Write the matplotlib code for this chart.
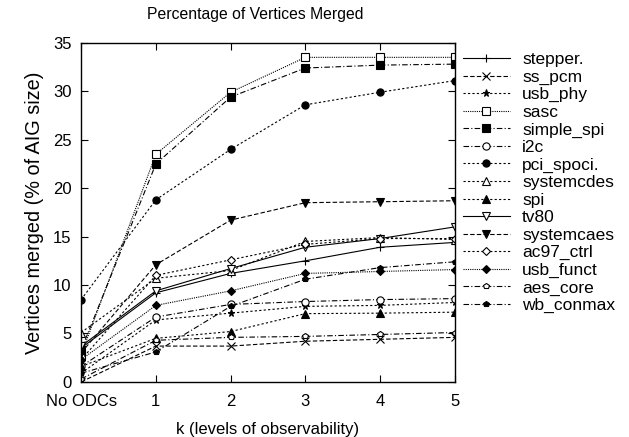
import matplotlib
matplotlib.use("Agg")
import matplotlib.pyplot as plt

plt.rcParams['font.family'] = ['Liberation Sans', 'DejaVu Sans']

# niveles k (0 = sin ODCs)
levels = [0, 1, 2, 3, 4, 5]
tick_labels = ["No ODCs", "1", "2", "3", "4", "5"]

stepper = [3.5, 9.2, 11.2, 12.5, 13.9, 14.4]
ss_pcm = [0.0, 3.7, 3.7, 4.2, 4.4, 4.6]
usb_phy = [0.9, 6.4, 7.1, 7.8, 7.9, 8.2]
sasc = [2.8, 23.5, 29.9, 33.5, 33.5, 33.5]
simple_spi = [3.3, 22.5, 29.4, 32.4, 32.7, 32.8]
i2c = [1.6, 6.7, 8.0, 8.3, 8.5, 8.6]
pci_spoci = [8.5, 18.8, 24.0, 28.6, 29.9, 31.1]
systemcdes = [5.1, 10.7, 11.5, 14.5, 14.9, 14.7]
spi = [1.6, 4.5, 5.2, 7.05, 7.1, 7.2]
tv80 = [3.7, 9.4, 11.7, 13.9, 14.8, 16.0]
systemcaes = [3.0, 12.1, 16.7, 18.5, 18.6, 18.7]
ac97_ctrl = [2.3, 11.0, 12.6, 14.2, 14.8, 14.8]
usb_funct = [2.3, 7.9, 9.4, 11.2, 11.4, 11.6]
aes_core = [0.3, 4.3, 4.6, 4.7, 4.9, 5.1]
wb_conmax = [0.9, 3.1, 7.8, 10.6, 11.8, 12.4]

solid = '-'
dashed = (0, (4, 2))
dotted = (0, (2, 2))
fine = (0, (1, 1))
dashdot = (0, (5, 2, 1, 2))

# nombre, datos, estilo de linea, marcador, relleno
series = [
    ("stepper.", stepper, solid, '+', 'k'),
    ("ss_pcm", ss_pcm, dashed, 'x', 'k'),
    ("usb_phy", usb_phy, dotted, '*', 'k'),
    ("sasc", sasc, fine, 's', 'white'),
    ("simple_spi", simple_spi, dashdot, 's', 'k'),
    ("i2c", i2c, dashdot, 'o', 'white'),
    ("pci_spoci.", pci_spoci, dotted, 'o', 'k'),
    ("systemcdes", systemcdes, dotted, '^', 'white'),
    ("spi", spi, dotted, '^', 'k'),
    ("tv80", tv80, solid, 'v', 'white'),
    ("systemcaes", systemcaes, dashed, 'v', 'k'),
    ("ac97_ctrl", ac97_ctrl, dotted, 'D', 'white'),
    ("usb_funct", usb_funct, fine, 'D', 'k'),
    ("aes_core", aes_core, dashdot, 'p', 'white'),
    ("wb_conmax", wb_conmax, dashdot, 'p', 'k'),
]

fig = plt.figure(figsize=(6.29, 4.37), dpi=100)
ax = fig.add_axes([0.129, 0.126, 0.594, 0.776])

for name, vals, ls, mk, fc in series:
    size = 4.3 if mk in ('D', 'p') else 5.2
    ax.plot(levels, vals, color='k', linestyle=ls, linewidth=0.8,
            marker=mk, markersize=size, markerfacecolor=fc,
            markeredgecolor='k', markeredgewidth=0.8, label=name)

ax.set_xlim(0, 5)
ax.set_ylim(0, 35)
ax.set_xticks(levels)
ax.set_xticklabels(tick_labels)
ax.set_yticks(range(0, 36, 5))
ax.tick_params(direction='in', top=True, right=True, length=5, labelsize=12)
ax.tick_params(axis='x', pad=9)
ax.tick_params(axis='y', pad=7)
for s in ax.spines.values():
    s.set_linewidth(1.0)

ax.set_title("Percentage of Vertices Merged", fontsize=11.3, pad=17, x=0.465)
ax.set_xlabel("k (levels of observability)", fontsize=12, labelpad=9)
ax.set_ylabel("Vertices merged (% of AIG size)", fontsize=14.3, labelpad=6)

ax.legend(loc='upper left', bbox_to_anchor=(463 / 629, 1 - 52 / 437),
          bbox_transform=fig.transFigure, frameon=False,
          fontsize=12.5, handlelength=2.7, handletextpad=0.7,
          labelspacing=0.135, borderaxespad=0, borderpad=0)

fig.savefig("out.png", dpi=100)
